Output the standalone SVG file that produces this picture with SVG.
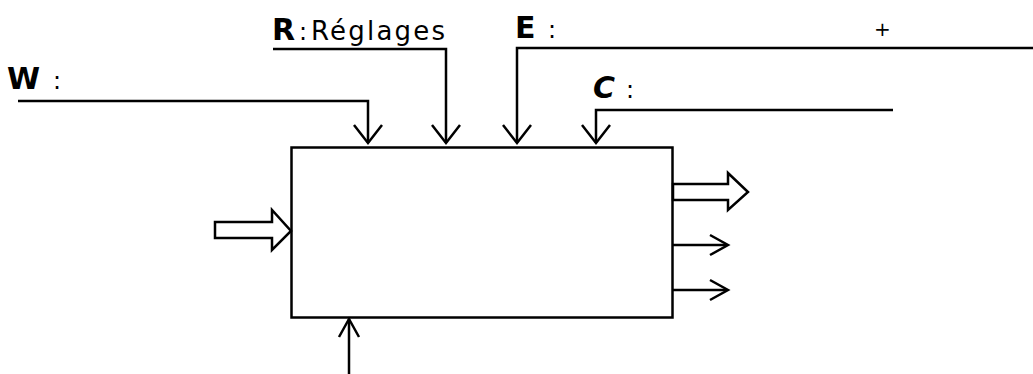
<svg xmlns="http://www.w3.org/2000/svg" width="1033" height="374" viewBox="0 0 1033 374">
<style>
.ln{fill:none;stroke:#000;stroke-width:2.5;stroke-linejoin:miter}
.hd{fill:none;stroke:#000;stroke-width:2.5}
.big{font-family:"DejaVu Sans",sans-serif;font-weight:bold;font-size:30px;fill:#000}
.sm{font-family:"DejaVu Sans",sans-serif;font-size:24px;fill:#000}
.lbl{font-family:"DejaVu Sans",sans-serif;font-size:26px;fill:#000}
.plus{font-family:"DejaVu Sans",sans-serif;font-size:20px;fill:#000}
</style>
<rect width="1033" height="374" fill="#fff"/>
<g id="box"><rect x="291.5" y="147.5" width="381" height="170" class="ln"/></g>
<g id="labels">
<text x="7" y="89" class="big">W</text><text x="53" y="89" class="sm">:</text>
<text x="272" y="40" class="big">R</text><text x="299" y="40" class="sm">:</text><text x="311" y="40" class="lbl" textLength="134" lengthAdjust="spacing">Réglages</text>
<text x="515" y="38" class="big">E</text><text x="548" y="38" class="sm">:</text>
<text x="874" y="36" class="plus">+</text>
<text x="593" y="98" class="big" font-style="italic">C</text><text x="626" y="98" class="sm">:</text>
</g>
<g id="connectors">
<polyline class="ln" points="18,101 368,101 368,143"/>
<polyline class="hd" points="354,125 368,143 382,125"/>
<polyline class="ln" points="273,49 446,49 446,143"/>
<polyline class="hd" points="432,125 446,143 460,125"/>
<polyline class="ln" points="1033,48 517,48 517,143"/>
<polyline class="hd" points="503,125 517,143 531,125"/>
<polyline class="ln" points="893,110 596,110 596,143"/>
<polyline class="hd" points="582,125 596,143 610,125"/>
<polygon class="ln" points="215,222 272,222 272,210 291,231 272,250 272,238 215,238"/>
<polygon class="ln" points="673,184 728,184 728,173 748,192 728,210 728,200 673,200"/>
<line class="ln" x1="673" y1="245" x2="727" y2="245"/>
<polyline class="hd" points="710,235 728,245 710,255"/>
<line class="ln" x1="673" y1="290" x2="727" y2="290"/>
<polyline class="hd" points="710,280 728,290 710,300"/>
<line class="ln" x1="349" y1="374" x2="349" y2="319"/>
<polyline class="hd" points="339,337 349,319 359,337"/>
</g>
</svg>
